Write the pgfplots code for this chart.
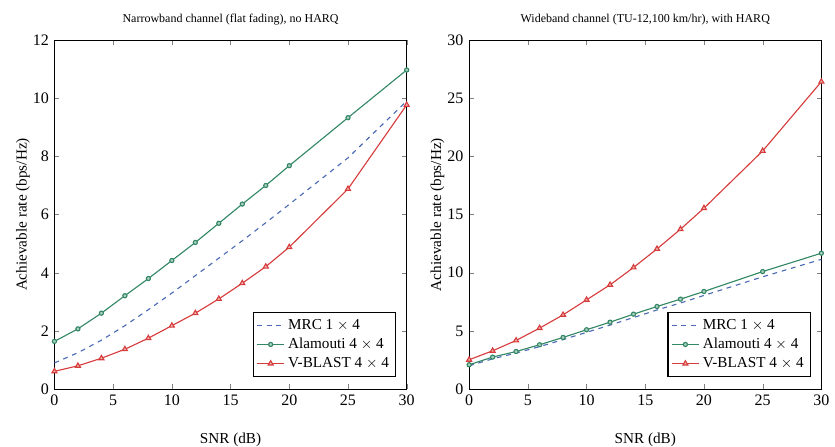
\documentclass[border=0pt]{standalone}
\usepackage{fontspec}
\setmainfont{Liberation Serif}
\usepackage{pgfplots}
\pgfplotsset{compat=1.18}
\definecolor{cgreen}{RGB}{50,135,100}
\definecolor{cred}{RGB}{215,60,60}
\definecolor{cblue}{RGB}{75,105,180}
\pgfplotsset{myax/.style={
  scale only axis, width=220pt, height=218pt,
  xmin=0, xmax=30, xtick={0,5,...,30},
  tick align=inside, tick pos=both,
  major tick length=3pt,
  /pgf/number format/assume math mode=true,
  ticklabel style={font=\fontsize{10}{11}\selectfont},
  label style={font=\fontsize{9.5}{10}\selectfont},
  title style={font=\fontsize{7.5}{9}\selectfont, yshift=0pt},
  xlabel={SNR (dB)}, ylabel={Achievable rate (bps/Hz)},
  xlabel style={yshift=-10pt},
  ylabel shift=-5pt,
  legend style={at={(0.97,0.035)}, anchor=south east, draw=black, line width=0.8pt,
    font=\fontsize{9.5}{11}\selectfont, cells={anchor=west}, row sep=0pt, inner sep=2pt},
  legend image post style={line width=0.7pt},
  legend cell align=left,
  every axis plot/.append style={line width=0.7pt},
}}
\begin{document}
\begin{tikzpicture}
\path[use as bounding box] (-34pt,-36pt) rectangle (487.5pt,243pt);
\begin{axis}[myax, at={(0,0)}, anchor=south west, ymin=0, ymax=12, ytick={0,2,...,12},
  title={Narrowband channel (flat fading), no HARQ}]
\addplot[cblue, dashed] coordinates {(0,0.9)(2,1.25)(4,1.68)(6,2.18)(8,2.73)(10,3.3)(12,3.9)(14,4.5)(16,5.1)(18,5.72)(20,6.35)(25,7.95)(30,9.9)};
\addplot[cgreen, mark=*, mark size=1.3pt, mark options={fill=cgreen!40}] coordinates {(0,1.64)(2,2.07)(4,2.61)(6,3.21)(8,3.80)(10,4.42)(12,5.04)(14,5.70)(16,6.36)(18,7.0)(20,7.68)(25,9.33)(30,10.97)};
\addplot[cred, mark=triangle*, mark size=1.8pt, mark options={fill=cred!40}] coordinates {(0,0.61)(2,0.80)(4,1.06)(6,1.37)(8,1.75)(10,2.18)(12,2.61)(14,3.10)(16,3.64)(18,4.21)(20,4.88)(25,6.88)(30,9.77)};
\legend{MRC 1 $\times$ 4, Alamouti 4 $\times$ 4, V-BLAST 4 $\times$ 4}
\end{axis}
\begin{axis}[myax, at={(259pt,0)}, anchor=south west, ymin=0, ymax=30, ytick={0,5,...,30},
  title={Wideband channel (TU-12,100 km/hr), with HARQ}]
\addplot[cblue, dashed] coordinates {(0,2.0)(2,2.6)(4,3.1)(6,3.65)(8,4.25)(10,4.88)(12,5.5)(14,6.15)(16,6.8)(18,7.4)(20,8.05)(25,9.65)(30,11.15)};
\addplot[cgreen, mark=*, mark size=1.3pt, mark options={fill=cgreen!40}] coordinates {(0,2.09)(2,2.75)(4,3.23)(6,3.81)(8,4.44)(10,5.1)(12,5.75)(14,6.44)(16,7.1)(18,7.73)(20,8.39)(25,10.1)(30,11.68)};
\addplot[cred, mark=triangle*, mark size=1.8pt, mark options={fill=cred!40}] coordinates {(0,2.52)(2,3.29)(4,4.18)(6,5.24)(8,6.38)(10,7.67)(12,8.96)(14,10.45)(16,12.05)(18,13.74)(20,15.55)(25,20.47)(30,26.42)};
\legend{MRC 1 $\times$ 4, Alamouti 4 $\times$ 4, V-BLAST 4 $\times$ 4}
\end{axis}
\end{tikzpicture}
\end{document}
